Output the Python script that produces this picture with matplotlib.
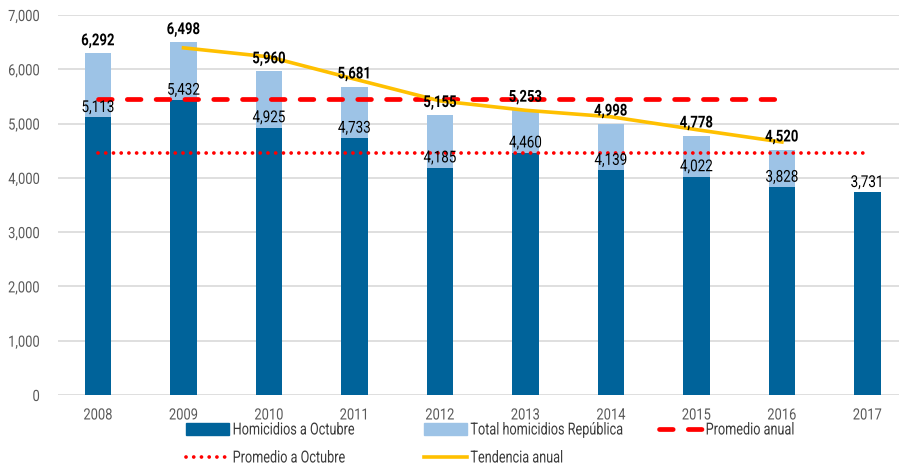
import matplotlib
matplotlib.use("Agg")
import matplotlib.pyplot as plt
from matplotlib.lines import Line2D
from matplotlib.patches import Patch
from matplotlib.patheffects import AbstractPathEffect
from matplotlib.transforms import Affine2D

plt.rcParams['font.family'] = ['Roboto', 'DejaVu Sans']

years = ['2008', '2009', '2010', '2011', '2012', '2013', '2014', '2015', '2016', '2017']
octubre = [5113, 5432, 4925, 4733, 4185, 4460, 4139, 4022, 3828, 3731]
total = [6292, 6498, 5960, 5681, 5155, 5253, 4998, 4778, 4520]
trend_years = ['2009', '2010', '2011', '2012', '2013', '2014', '2015', '2016']
trend = [6395, 6229, 5820, 5418, 5245, 5125, 4888, 4660]
promedio_anual = 5459
promedio_octubre = 4457

DARK = '#00639A'
LIGHT = '#9DC3E6'
YELLOW = '#FFC000'
RED = '#FF0000'


class Condense(AbstractPathEffect):
    """Draw text horizontally condensed (narrow font look)."""
    def __init__(self, sx=0.8, anchor='center'):
        super().__init__((0, 0))
        self.sx = sx
        self.anchor = anchor

    def draw_path(self, renderer, gc, tpath, affine, rgbFace=None):
        ext = tpath.get_extents()
        if self.anchor == 'center':
            cx = (ext.x0 + ext.x1) / 2
        elif self.anchor == 'right':
            cx = ext.x1
        else:
            cx = ext.x0
        t = Affine2D().translate(-cx, 0).scale(self.sx, 1).translate(cx, 0) + affine
        renderer.draw_path(gc, tpath, t, rgbFace)


fig = plt.figure(figsize=(8.99, 4.67), dpi=100)
ax = fig.add_axes([58/899, 72/467, 841/899, 380/467])

x_all = list(range(len(years)))
x_tot = list(range(len(total)))
bw = 0.31

ax.bar(x_tot, total, width=bw, color=LIGHT, zorder=2)
ax.bar(x_all, octubre, width=bw, color=DARK, zorder=3)

DASH_KW = dict(color=RED, lw=3.4, dashes=(2.9, 3.2), dash_capstyle='round')
DOT_KW = dict(color=RED, lw=2.7, linestyle=(0, (0.01, 2.05)), dash_capstyle='round')

ax.plot([x_all[0], x_tot[-1]], [promedio_anual, promedio_anual], zorder=4, **DASH_KW)
ax.plot([x_all[0], x_all[-1]], [promedio_octubre, promedio_octubre], zorder=4, **DOT_KW)
x_tr = [years.index(y) for y in trend_years]
ax.plot(x_tr, trend, color=YELLOW, lw=2.6, zorder=5)

for i, v in enumerate(total):
    ax.text(i, v + 95, f'{v:,}', ha='center', va='bottom', fontsize=11.8,
            fontweight='bold', color='black', zorder=6,
            path_effects=[Condense(0.8, 'center')])
for i, v in enumerate(octubre):
    ax.text(i, v + 45, f'{v:,}', ha='center', va='bottom', fontsize=11.8,
            color='black', zorder=6, path_effects=[Condense(0.82, 'center')])

ax.set_xlim(-0.468, 9.37)
ax.set_ylim(0, 7000)
ax.set_yticks(range(0, 7001, 1000))
ax.set_yticklabels([f'{v:,}' for v in range(0, 7001, 1000)])
ax.set_xticks(x_all)
ax.set_xticklabels(years)
ax.tick_params(axis='both', length=0, labelsize=11.2, colors='#595959')
ax.tick_params(axis='y', pad=13)
ax.tick_params(axis='x', pad=9)
for t in ax.get_yticklabels():
    t.set_path_effects([Condense(0.83, 'right')])
for t in ax.get_xticklabels():
    t.set_path_effects([Condense(0.83, 'center')])
ax.grid(axis='y', color='#D9D9D9', lw=1.2, zorder=0)
ax.set_axisbelow(True)
for s in ax.spines.values():
    s.set_visible(False)

leg_kw = dict(frameon=False, fontsize=12, handlelength=2.6, handletextpad=0.18,
              borderpad=0, borderaxespad=0, loc='center left', labelcolor='#3a3a3a')
entries = [
    (Patch(color=DARK), 'Homicidios a Octubre', 186, 430),
    (Patch(color=LIGHT), 'Total homicidios República', 424, 430),
    (Line2D([], [], **DASH_KW), 'Promedio anual', 659, 430),
    (Line2D([], [], **DOT_KW), 'Promedio a Octubre', 186, 458),
    (Line2D([], [], color=YELLOW, lw=2.6), 'Tendencia anual', 424, 458),
]
for h, lab, px, py in entries:
    leg = fig.legend([h], [lab], bbox_to_anchor=(px/899, 1 - py/467), **leg_kw)
    for t in leg.get_texts():
        t.set_path_effects([Condense(0.76, 'left')])

fig.savefig('out.png', dpi=100)
